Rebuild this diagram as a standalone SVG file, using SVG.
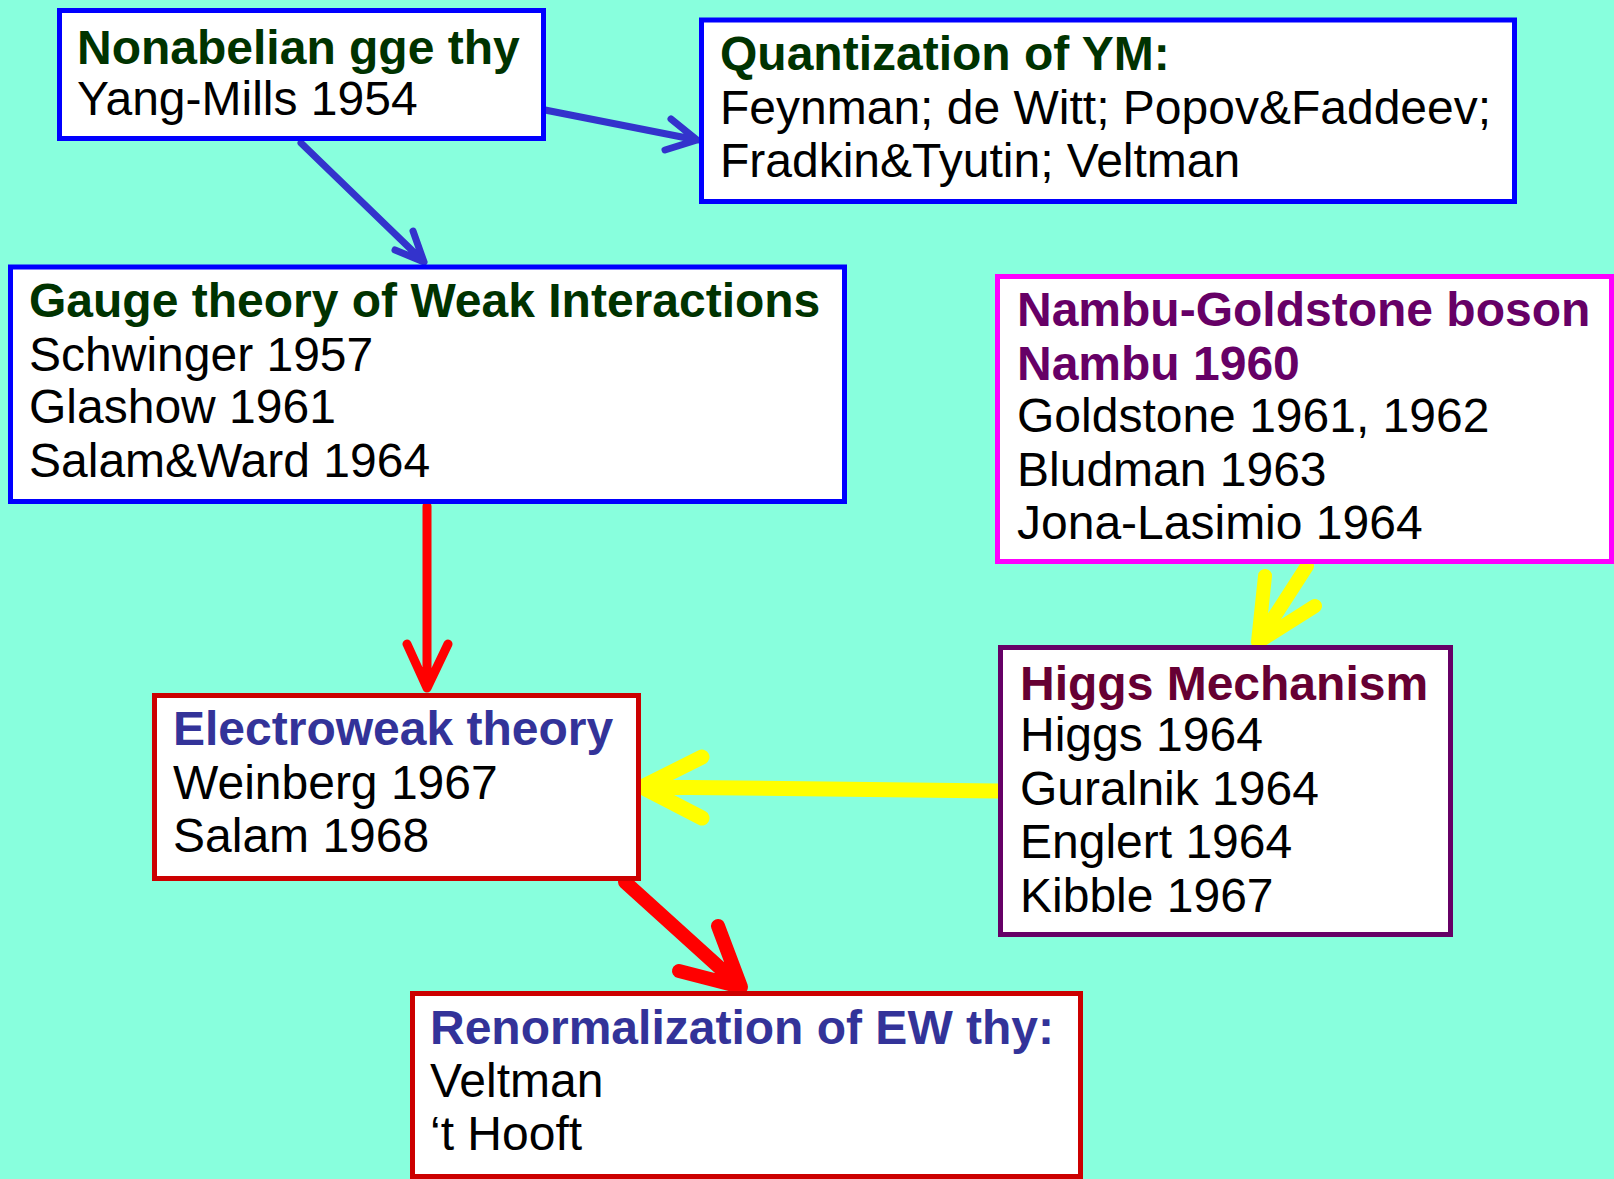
<svg xmlns="http://www.w3.org/2000/svg" width="1614" height="1179" viewBox="0 0 1614 1179">
<style>
.box{fill:#fff;stroke-width:5}
.bl{stroke:#0000FF}.rd{stroke:#CC0000}.mg{stroke:#FF00FF}.pu{stroke:#660066}
text{font-family:"Liberation Sans",Arial,sans-serif;font-size:48px;fill:#000}
.t{font-weight:bold}
.g{fill:#003300}.p{fill:#660066}.m{fill:#660033}.n{fill:#333399}
.a{fill:none;stroke-linecap:round;stroke-linejoin:round}
.ab{stroke:#3333CC;stroke-width:7}
.ar{stroke:#FF0000}
.ay{stroke:#FFFF00}
</style>
<rect width="1614" height="1179" fill="#88FFDD"/>
<g id="connectors">
<path class="a ab" d="M545,110 L697,140 M671,119 L697,140 L665,150"/>
<path class="a ab" d="M301,143 L424,262 M413,231 L424,262 L395,250"/>
<path class="a ar" stroke-width="9" d="M427,506 L427,688 M407,644 L427,688 L448,644"/>
<path class="a ay" stroke-width="14" d="M1307,566 L1258,642 M1265,576 L1258,642 L1315,606"/>
<path class="a ay" stroke-width="15" d="M998,791 L642,787 M702,757 L642,787 L702,818"/>
<path class="a ar" stroke-width="14" d="M625,882 L741,987 M718,926 L741,987 L679,971"/>
</g>
<g id="n1">
<rect class="box bl" x="59.5" y="10.5" width="484" height="128"/>
<text x="77" y="64" class="t g">Nonabelian gge thy</text>
<text x="77" y="115">Yang-Mills 1954</text>
</g>
<g id="n2">
<rect class="box bl" x="701.5" y="20" width="813" height="181.5"/>
<text x="720" y="70" class="t g">Quantization of YM:</text>
<text x="720" y="123.5">Feynman; de Witt; Popov&amp;Faddeev;</text>
<text x="720" y="177">Fradkin&amp;Tyutin; Veltman</text>
</g>
<g id="n3">
<rect class="box bl" x="10.5" y="267" width="834" height="234.5"/>
<text x="29" y="317" class="t g">Gauge theory of Weak Interactions</text>
<text x="29" y="370.5">Schwinger 1957</text>
<text x="29" y="423">Glashow 1961</text>
<text x="29" y="476.5">Salam&amp;Ward 1964</text>
</g>
<g id="n4">
<rect class="box mg" x="997.5" y="276.5" width="614" height="285"/>
<text x="1017" y="326" class="t p">Nambu-Goldstone boson</text>
<text x="1017" y="380" class="t p">Nambu 1960</text>
<text x="1017" y="432">Goldstone 1961, 1962</text>
<text x="1017" y="486">Bludman 1963</text>
<text x="1017" y="539">Jona-Lasimio 1964</text>
</g>
<g id="n5">
<rect class="box pu" x="1000.5" y="647.5" width="450" height="287"/>
<text x="1020" y="700" class="t m">Higgs Mechanism</text>
<text x="1020" y="751">Higgs 1964</text>
<text x="1020" y="805">Guralnik 1964</text>
<text x="1020" y="858">Englert 1964</text>
<text x="1020" y="912">Kibble 1967</text>
</g>
<g id="n6">
<rect class="box rd" x="154.5" y="695.5" width="484" height="183"/>
<text x="173" y="745" class="t n">Electroweak theory</text>
<text x="173" y="799">Weinberg 1967</text>
<text x="173" y="852">Salam 1968</text>
</g>
<g id="n7">
<rect class="box rd" x="412.5" y="993.5" width="668" height="183"/>
<text x="430" y="1044" class="t n">Renormalization of EW thy:</text>
<text x="430" y="1097">Veltman</text>
<text x="430" y="1150">‘t Hooft</text>
</g>
</svg>
